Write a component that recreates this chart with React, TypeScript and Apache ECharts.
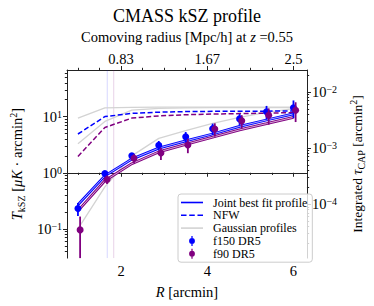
import React, { useEffect, useRef } from "react";
import * as echarts from "echarts";

// ---------------- data ----------------
const R = [1.0, 1.625, 2.25, 2.875, 3.5, 4.125, 4.75, 5.375, 6.0];
const f90Shift = 0.05;
const f150 = [0.23, 0.97, 2.0, 3.08, 4.36, 6.1, 9.1, 12.2, 14.4];
const f150Err = [0.06, 0.1, 0.2, 0.6, 0.95, 1.4, 2.0, 3.3, 5.0];
const f90 = [0.096, 0.76, 1.81, 2.24, 3.13, 6.0, 8.4, 10.6, 13.0];
const f90Err = [0.07, 0.13, 0.33, 0.55, 0.9, 1.6, 2.2, 3.4, 5.0];
const fit150 = [0.27, 0.88, 1.75, 2.75, 3.7, 4.9, 6.7, 8.7, 11.2];
const fit90 = [0.21, 0.72, 1.45, 2.35, 3.2, 4.3, 5.8, 7.5, 9.7];
const nfw150 = [4.9, 10.0, 11.4, 12.0, 12.3, 12.4, 12.5, 12.5, 12.6];
const nfw90 = [1.95, 6.4, 9.4, 10.3, 10.8, 11.1, 11.3, 11.5, 11.8];
const gauss1 = [9.4, 14.3, 14.6, 14.7, 14.7, 14.7, 14.7, 14.7, 14.7];
const gauss2 = [3.3, 8.2, 13.0, 14.0, 14.3, 14.4, 14.5, 14.5, 14.5];
const gauss3 = [0.1, 0.56, 2.0, 4.1, 5.6, 7.6, 9.7, 11.9, 13.9];
const beamLines = [1.68, 1.83];
const xTicks = [2, 4, 6];
const xMinorTicks = [1, 1.5, 2.5, 3, 3.5, 4.5, 5, 5.5];
const topTickLabels = ["0.83", "1.67", "2.5"];
const leftExponents = [-1, 0, 1];
const rightExponents = [-4, -3, -2];

// ---------------- layout / style ----------------
const FONT = "'Liberation Serif', 'Times New Roman', serif";
const X_MIN = 0.747;
const X_MAX = 6.313;
const Y_MIN = -1.52;
const Y_MAX = 1.83;
const TAU_SHIFT = -3.44;
const AXIS_COLOR = "#222";
const BLUE = "#0000ff";
const PURPLE = "#800080";
const GRAY = "#d3d3d3";
const TICK_FS = 14.5;

const log = (v: number) => Math.log10(v);

function minorLogTicks(min: number, max: number) {
  const out: number[] = [];
  for (let n = Math.floor(min); n <= Math.ceil(max); n++) {
    for (let k = 2; k <= 9; k++) {
      const v = n + Math.log10(k);
      if (v > min && v < max) out.push(v);
    }
  }
  return out;
}

const powLabel = (v: number) => {
  const e = Math.round(v);
  return `{b|10}{s|${e < 0 ? "\u2212" + -e : e}}`;
};

const powRich = {
  b: { fontSize: TICK_FS, fontFamily: FONT, color: "#000", lineHeight: 15, verticalAlign: "bottom" },
  s: { fontSize: 10, fontFamily: FONT, color: "#000", lineHeight: 10, padding: [0, 0, 8, 0], verticalAlign: "top" },
};

const nameRich = {
  i: { fontSize: TICK_FS, fontFamily: FONT, fontStyle: "italic", color: "#000", lineHeight: 18 },
  sub: { fontSize: 10, fontFamily: FONT, color: "#000", lineHeight: 10, padding: [8, 0, 0, 0], verticalAlign: "bottom" },
  sup: { fontSize: 10, fontFamily: FONT, color: "#000", lineHeight: 10, padding: [0, 0, 8, 0], verticalAlign: "top" },
};

const nameStyle = { fontSize: TICK_FS, fontFamily: FONT, color: "#000", lineHeight: 18, rich: nameRich };

// error-bar legend glyph: vertical bar + dot, both wound clockwise so the overlap stays filled
const errIcon =
  "path://M3.25,0 L4.75,0 L4.75,12 L3.25,12 Z M4,2.5 A3.5,3.5 0 1 1 4,9.5 A3.5,3.5 0 1 1 4,2.5 Z";
const solidIcon = "path://M0,0 L22,0 L22,1.6 L0,1.6 Z";
const dashIcon =
  "path://M0,0 L5.5,0 L5.5,1.6 L0,1.6 Z M8.2,0 L13.7,0 L13.7,1.6 L8.2,1.6 Z M16.4,0 L21.9,0 L21.9,1.6 L16.4,1.6 Z";

function lineSeries(name: string, values: number[], color: string, width: number, z: number, type: any = "solid", opacity = 1) {
  return {
    type: "line",
    name,
    xAxisIndex: 0,
    yAxisIndex: 0,
    data: R.map((x, i) => [x, log(values[i])]),
    symbol: "none",
    silent: true,
    lineStyle: { color, width, type, opacity },
    itemStyle: { color },
    z,
  };
}

function beamSeries(x: number, color: string) {
  return {
    type: "line",
    name: "beam " + x,
    xAxisIndex: 0,
    yAxisIndex: 0,
    data: [
      [x, Y_MIN],
      [x, Y_MAX],
    ],
    symbol: "none",
    silent: true,
    lineStyle: { color, width: 1 },
    z: 0,
  };
}

function errSeries(name: string, vals: number[], errs: number[], shift: number, color: string, z: number) {
  return {
    type: "custom",
    name,
    xAxisIndex: 0,
    yAxisIndex: 0,
    silent: true,
    z,
    data: R.map((x, i) => [
      x + shift,
      Math.max(log(Math.max(vals[i] - errs[i], 1e-6)), Y_MIN),
      Math.min(log(vals[i] + errs[i]), Y_MAX),
    ]),
    encode: { x: 0, y: [1, 2] },
    renderItem: (_p: any, api: any) => {
      const a = api.coord([api.value(0), api.value(1)]);
      const b = api.coord([api.value(0), api.value(2)]);
      return {
        type: "line",
        shape: { x1: a[0], y1: a[1], x2: b[0], y2: b[1] },
        style: { stroke: color, lineWidth: 1.8 },
      };
    },
  };
}

function pointSeries(name: string, vals: number[], shift: number, color: string, z: number) {
  return {
    type: "scatter",
    name,
    xAxisIndex: 0,
    yAxisIndex: 0,
    silent: true,
    z,
    symbol: "circle",
    symbolSize: 7,
    itemStyle: { color, opacity: 1, borderWidth: 0 },
    data: R.map((x, i) => [x + shift, log(vals[i])]),
  };
}

function buildOption(): any {
  const leftMinor = minorLogTicks(Y_MIN, Y_MAX);
  const rMin = Y_MIN + TAU_SHIFT;
  const rMax = Y_MAX + TAU_SHIFT;
  const rightMinor = minorLogTicks(rMin, rMax);

  const xBase = {
    type: "value",
    min: X_MIN,
    max: X_MAX,
    splitLine: { show: false },
  };
  const yBase = { type: "value", splitLine: { show: false } };
  const noBorder = { borderWidth: 0 };

  return {
    animation: false,
    backgroundColor: "#ffffff",
    title: {
      text: "CMASS kSZ profile",
      left: "center",
      top: 2,
      textStyle: { fontFamily: FONT, fontSize: 18, fontWeight: "normal", color: "#000" },
    },
    grid: { left: 59, right: 56, top: 70, bottom: 43, containLabel: false },
    xAxis: [
      {
        ...xBase,
        position: "bottom",
        axisLine: { show: true, lineStyle: { color: AXIS_COLOR, width: 1 } },
        axisTick: { show: true, customValues: xTicks, length: 4, lineStyle: { color: AXIS_COLOR } },
        axisLabel: {
          customValues: xTicks,
          margin: 5,
          fontFamily: FONT,
          fontSize: TICK_FS,
          color: "#000",
          formatter: (v: number) => String(Math.round(v)),
        },
        name: "{i|R} [arcmin]",
        nameLocation: "middle",
        nameGap: 20,
        nameTextStyle: nameStyle,
      },
      {
        ...xBase,
        position: "bottom",
        axisLine: { show: false },
        axisTick: { show: true, customValues: xMinorTicks, length: 2.2, lineStyle: { color: AXIS_COLOR } },
        axisLabel: { show: false },
      },
      {
        ...xBase,
        position: "top",
        axisLine: { show: true, lineStyle: { color: AXIS_COLOR, width: 1 } },
        axisTick: { show: true, customValues: xTicks, length: 4, lineStyle: { color: AXIS_COLOR } },
        axisLabel: {
          customValues: xTicks,
          margin: 4,
          fontFamily: FONT,
          fontSize: TICK_FS,
          color: "#000",
          formatter: (v: number) => topTickLabels[xTicks.indexOf(Math.round(v))] ?? "",
        },
        name: "Comoving radius [Mpc/h] at {i|z} =0.55",
        nameLocation: "middle",
        nameGap: 24,
        nameTextStyle: nameStyle,
      },
      {
        ...xBase,
        position: "top",
        axisLine: { show: false },
        axisTick: { show: true, customValues: xMinorTicks, length: 2.2, lineStyle: { color: AXIS_COLOR } },
        axisLabel: { show: false },
      },
    ],
    yAxis: [
      {
        ...yBase,
        min: Y_MIN,
        max: Y_MAX,
        position: "left",
        axisLine: { show: true, lineStyle: { color: AXIS_COLOR, width: 1 } },
        axisTick: { show: true, customValues: leftExponents, length: 4, lineStyle: { color: AXIS_COLOR } },
        axisLabel: {
          customValues: leftExponents,
          margin: 5,
          formatter: powLabel,
          rich: powRich,
        },
        name: "{i|T}{sub|kSZ} [{i|μK} · arcmin{sup|2}]",
        nameLocation: "middle",
        nameRotate: 90,
        nameGap: 37,
        nameTextStyle: nameStyle,
      },
      {
        ...yBase,
        min: Y_MIN,
        max: Y_MAX,
        position: "left",
        axisLine: { show: false },
        axisTick: { show: true, customValues: leftMinor, length: 2.2, lineStyle: { color: AXIS_COLOR } },
        axisLabel: { show: false },
      },
      {
        ...yBase,
        min: rMin,
        max: rMax,
        position: "right",
        axisLine: { show: true, lineStyle: { color: AXIS_COLOR, width: 1 } },
        axisTick: { show: true, customValues: rightExponents, length: 4, lineStyle: { color: AXIS_COLOR } },
        axisLabel: {
          customValues: rightExponents,
          margin: 5,
          formatter: powLabel,
          rich: powRich,
        },
        name: "Integrated {i|τ}{sub|CAP} [arcmin{sup|2}]",
        nameLocation: "middle",
        nameRotate: 90,
        nameGap: 37,
        nameTextStyle: { ...nameStyle, fontSize: 13.5 },
      },
      {
        ...yBase,
        min: rMin,
        max: rMax,
        position: "right",
        axisLine: { show: false },
        axisTick: { show: true, customValues: rightMinor, length: 2.2, lineStyle: { color: AXIS_COLOR } },
        axisLabel: { show: false },
      },
    ],
    legend: {
      orient: "vertical",
      left: 178,
      top: 194,
      z: 20,
      itemWidth: 22,
      itemHeight: 10,
      itemGap: 0.8,
      padding: [2.5, 5, 2.5, 3],
      backgroundColor: "rgba(255,255,255,0.8)",
      borderColor: "#cccccc",
      borderWidth: 1,
      borderRadius: 3,
      selectedMode: false,
      symbolKeepAspect: true,
      textStyle: { fontFamily: FONT, fontSize: 12, color: "#000", lineHeight: 11, padding: [0, 0, 0, 5] },
      data: [
        { name: "Joint best fit profile", icon: solidIcon, itemStyle: noBorder },
        { name: "NFW", icon: dashIcon, itemStyle: noBorder },
        { name: "Gaussian profiles", icon: solidIcon, itemStyle: noBorder },
        { name: "f150 DR5", icon: errIcon, itemStyle: noBorder },
        { name: "f90 DR5", icon: errIcon, itemStyle: noBorder },
      ],
    },
    series: [
      beamSeries(beamLines[0], "rgba(0,0,255,0.16)"),
      beamSeries(beamLines[1], "rgba(128,0,128,0.18)"),
      lineSeries("Gaussian profiles", gauss1, GRAY, 1.3, 1),
      lineSeries("Gaussian profiles", gauss2, GRAY, 1.3, 1),
      lineSeries("Gaussian profiles", gauss3, GRAY, 1.3, 1),
      lineSeries("NFW", nfw150, BLUE, 1.5, 2, [5, 2.5]),
      lineSeries("NFW f90", nfw90, PURPLE, 1.5, 2, [5, 2.5]),
      lineSeries("Joint best fit profile", fit150, BLUE, 2.8, 3),
      lineSeries("Joint fit inner 150", fit150, "#ffffff", 0.9, 3, "solid", 0.75),
      lineSeries("Joint best fit f90", fit90, PURPLE, 2.8, 3),
      lineSeries("Joint fit inner 90", fit90, "#ffffff", 0.9, 3, "solid", 0.75),
      errSeries("f150 err", f150, f150Err, 0, BLUE, 4),
      pointSeries("f150 DR5", f150, 0, BLUE, 5),
      errSeries("f90 err", f90, f90Err, f90Shift, PURPLE, 6),
      pointSeries("f90 DR5", f90, f90Shift, PURPLE, 7),
    ],
  };
}

export default function App() {
  const ref = useRef<HTMLDivElement>(null);
  useEffect(() => {
    if (!ref.current) return;
    const chart = echarts.init(ref.current, null, { renderer: "svg" });
    chart.setOption(buildOption());
    return () => chart.dispose();
  }, []);
  return (
    <div
      ref={ref}
      style={{ position: "absolute", left: 0, top: 0, width: 374, height: 306, background: "#fff" }}
    />
  );
}
